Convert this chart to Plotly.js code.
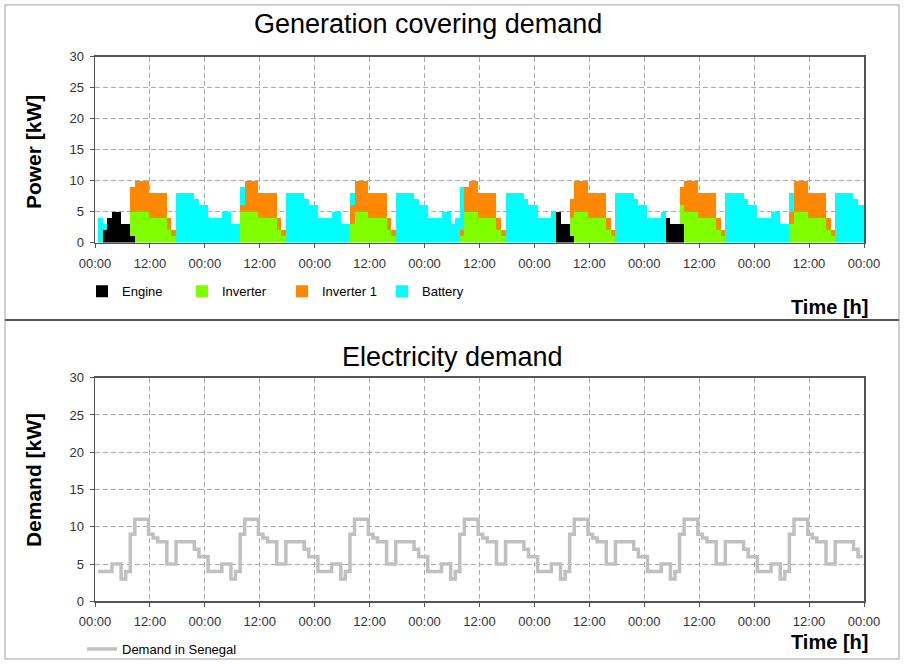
<!DOCTYPE html>
<html>
<head>
<meta charset="utf-8">
<script src="https://cdn.plot.ly/plotly-3.0.1.min.js"></script>
<style>
  html, body { margin: 0; padding: 0; background: #ffffff; }
  #chart { width: 904px; height: 664px; }
</style>
</head>
<body>
<div id="chart"></div>
<script>
// ---- data (hourly values, 7 days = 168 hours) ----
const seriesNames = ["Engine", "Inverter", "Inverter 1", "Battery"];
const demandName = "Demand in Senegal";

const engine = [
  0,2,4,5,5,3,3,1, 0,0,0,0,0,0,0,0, 0,0,0,0,0,0,0,0,
  0,0,0,0,0,0,0,0, 0,0,0,0,0,0,0,0, 0,0,0,0,0,0,0,0,
  0,0,0,0,0,0,0,0, 0,0,0,0,0,0,0,0, 0,0,0,0,0,0,0,0,
  0,0,0,0,0,0,0,0, 0,0,0,0,0,0,0,0, 0,0,0,0,0,0,0,0,
  0,0,0,0,5,3,3,1, 0,0,0,0,0,0,0,0, 0,0,0,0,0,0,0,0,
  0,0,0,0,4,3,3,3, 0,0,0,0,0,0,0,0, 0,0,0,0,0,0,0,0,
  0,0,0,0,0,0,0,0, 0,0,0,0,0,0,0,0, 0,0,0,0,0,0,0,0
];
const inverter = [
  0,0,0,0,0,0,0,4, 5,5,5,4,4,4,4,2, 1,0,0,0,0,0,0,0,
  0,0,0,0,0,0,0,5, 5,5,5,4,4,4,4,2, 1,0,0,0,0,0,0,0,
  0,0,0,0,0,0,0,3, 5,5,5,4,4,4,4,2, 1,0,0,0,0,0,0,0,
  0,0,0,0,0,0,0,1, 5,5,5,4,4,4,4,2, 1,0,0,0,0,0,0,0,
  0,0,0,0,0,0,0,3, 5,5,5,4,4,4,4,2, 1,0,0,0,0,0,0,0,
  0,0,0,0,0,0,0,3, 5,5,5,4,4,4,4,2, 1,0,0,0,0,0,0,0,
  0,0,0,0,0,0,0,3, 5,5,5,4,4,4,4,2, 1,0,0,0,0,0,0,0
];
const inverter1 = [
  0,0,0,0,0,0,0,4, 5,5,5,4,4,4,4,2, 1,0,0,0,0,0,0,0,
  0,0,0,0,0,0,0,1, 5,5,5,4,4,4,4,2, 1,0,0,0,0,0,0,0,
  0,0,0,0,0,0,0,3, 5,5,5,4,4,4,4,2, 1,0,0,0,0,0,0,0,
  0,0,0,0,0,0,0,1, 4,5,5,4,4,4,4,2, 1,0,0,0,0,0,0,0,
  0,0,0,0,0,0,0,3, 5,5,5,4,4,4,4,2, 1,0,0,0,0,0,0,0,
  0,0,0,0,0,0,0,3, 5,5,5,4,4,4,4,2, 1,0,0,0,0,0,0,0,
  0,0,0,0,0,0,0,2, 5,5,5,4,4,4,4,2, 1,0,0,0,0,0,0,0
];
const battery = [
  4,1,0,0,0,0,0,0, 0,0,0,0,0,0,0,0, 0,8,8,8,8,7,6,6,
  4,4,4,5,5,3,3,3, 0,0,0,0,0,0,0,0, 0,8,8,8,8,7,6,6,
  4,4,4,5,5,3,3,2, 0,0,0,0,0,0,0,0, 0,8,8,8,8,7,6,6,
  4,4,4,5,5,3,4,7, 0,0,0,0,0,0,0,0, 0,8,8,8,8,7,6,6,
  4,4,4,5,0,0,0,0, 0,0,0,0,0,0,0,0, 0,8,8,8,8,7,6,6,
  4,4,4,5,0,0,0,0, 0,0,0,0,0,0,0,0, 0,8,8,8,8,7,6,6,
  4,4,4,5,5,3,3,3, 0,0,0,0,0,0,0,0, 0,8,8,8,8,7,6,6
];
const demand = [
  4,4,4,5,5,3,4,9, 11,11,11,9,8.5,8,8,5, 5,8,8,8,8,7,6,6,
  4,4,4,5,5,3,4,9, 11,11,11,9,8.5,8,8,5, 5,8,8,8,8,7,6,6,
  4,4,4,5,5,3,4,9, 11,11,11,9,8.5,8,8,5, 5,8,8,8,8,7,6,6,
  4,4,4,5,5,3,4,9, 11,11,11,9,8.5,8,8,5, 5,8,8,8,8,7,6,6,
  4,4,4,5,5,3,4,9, 11,11,11,9,8.5,8,8,5, 5,8,8,8,8,7,6,6,
  4,4,4,5,5,3,4,9, 11,11,11,9,8.5,8,8,5, 5,8,8,8,8,7,6,6,
  4,4,4,5,5,3,4,9, 11,11,11,9,8.5,8,8,5, 5,8,8,8,8,7,6,6
];
const tickHours = [0,12,24,36,48,60,72,84,96,108,120,132,144,156,168];
const tickLabels = ["00:00","12:00","00:00","12:00","00:00","12:00","00:00","12:00",
                    "00:00","12:00","00:00","12:00","00:00","12:00","00:00"];

// ---- styling ----
const colors = ["#000000", "#80ff00", "#ff8800", "#00ffff"];
const STEP_OFFSET = 0.7;            // steps begin a little after the hour
const hours = engine.map((_, i) => i);
const W = 904, H = 664;
const px = v => v / W;
const py = v => 1 - v / H;
const FONT = "Liberation Sans, Arial, sans-serif";

const genValues = [engine, inverter, inverter1, battery];
const traces = genValues.map((vals, k) => ({
  type: "bar",
  name: seriesNames[k],
  x: hours,
  y: vals.map(v => (v === 0 ? null : v)),   // empty hours draw nothing
  width: 1,
  offset: STEP_OFFSET,
  marker: { color: colors[k], line: { width: 0 } },
  xaxis: "x", yaxis: "y",
  legend: "legend",
  hoverinfo: "x+y+name"
}));
traces.push({
  type: "scatter",
  mode: "lines",
  name: demandName,
  x: hours.map(h => h + STEP_OFFSET),
  y: demand,
  line: { shape: "hv", color: "#c0c0c0", width: 3.5 },
  xaxis: "x2", yaxis: "y2",
  legend: "legend2"
});

const xCommon = {
  range: [0, 168],
  tickmode: "array",
  tickvals: tickHours,
  ticktext: tickLabels,
  ticks: "outside", ticklen: 4, tickcolor: "#555",
  ticklabelstandoff: 4,
  tickfont: { family: FONT, size: 13, color: "#333" },
  showgrid: true, gridcolor: "#aaaaaa", gridwidth: 1, griddash: "5px,3px",
  showline: true, mirror: true, linecolor: "#555555", linewidth: 1.5,
  zeroline: false, fixedrange: true,
  domain: [px(95), px(864)]
};
const yCommon = {
  range: [0, 30], dtick: 5, tick0: 0,
  ticks: "outside", ticklen: 4, tickcolor: "#555",
  ticklabelstandoff: 3,
  tickfont: { family: FONT, size: 13, color: "#333" },
  showgrid: true, gridcolor: "#aaaaaa", gridwidth: 1, griddash: "5px,3px",
  showline: true, mirror: true, linecolor: "#555555", linewidth: 1.5,
  zeroline: false, fixedrange: true
};

const layout = {
  width: W, height: H,
  margin: { l: 0, r: 0, t: 0, b: 0 },
  paper_bgcolor: "#ffffff", plot_bgcolor: "#ffffff",
  barmode: "stack", bargap: 0,
  showlegend: true,
  font: { family: FONT, color: "#000" },
  xaxis: Object.assign({}, xCommon, { anchor: "y" }),
  yaxis: Object.assign({}, yCommon, { anchor: "x", domain: [py(244), py(57)] }),
  xaxis2: Object.assign({}, xCommon, { anchor: "y2" }),
  yaxis2: Object.assign({}, yCommon, { anchor: "x2", domain: [py(605), py(380)] }),
  legend: {
    orientation: "h", x: px(82), xanchor: "left", y: py(293), yanchor: "middle",
    traceorder: "normal", entrywidth: 55, bgcolor: "rgba(0,0,0,0)",
    font: { family: FONT, size: 13, color: "#000" }
  },
  legend2: {
    orientation: "h", x: px(82), xanchor: "left", y: py(653), yanchor: "middle",
    bgcolor: "rgba(0,0,0,0)",
    font: { family: FONT, size: 13, color: "#000" }
  },
  annotations: [
    { text: "Generation covering demand", xref: "paper", yref: "paper",
      x: px(428), y: py(24), xanchor: "center", yanchor: "middle", showarrow: false,
      font: { family: FONT, size: 27, color: "#000" } },
    { text: "Electricity demand", xref: "paper", yref: "paper",
      x: px(452), y: py(359), xanchor: "center", yanchor: "middle", showarrow: false,
      font: { family: FONT, size: 27, color: "#000" } },
    { text: "<b>Power [kW]</b>", xref: "paper", yref: "paper", textangle: -90,
      x: px(33), y: py(153), xanchor: "center", yanchor: "middle", showarrow: false,
      font: { family: FONT, size: 21, color: "#000" } },
    { text: "<b>Demand [kW]</b>", xref: "paper", yref: "paper", textangle: -90,
      x: px(33), y: py(483), xanchor: "center", yanchor: "middle", showarrow: false,
      font: { family: FONT, size: 21, color: "#000" } },
    { text: "<b>Time [h]</b>", xref: "paper", yref: "paper",
      x: px(870), y: py(309), xanchor: "right", yanchor: "middle", showarrow: false,
      font: { family: FONT, size: 20, color: "#000" } },
    { text: "<b>Time [h]</b>", xref: "paper", yref: "paper",
      x: px(870), y: py(646), xanchor: "right", yanchor: "middle", showarrow: false,
      font: { family: FONT, size: 20, color: "#000" } }
  ],
  shapes: [
    { type: "rect", xref: "paper", yref: "paper",
      x0: px(5), x1: px(899), y0: py(663), y1: py(5),
      line: { color: "#a0a0a0", width: 1 }, fillcolor: "rgba(0,0,0,0)", layer: "below" },
    { type: "line", xref: "paper", yref: "paper",
      x0: px(5), x1: px(899), y0: py(322), y1: py(322),
      line: { color: "#555555", width: 2 } }
  ]
};

Plotly.newPlot("chart", traces, layout, { staticPlot: true, displayModeBar: false });
</script>
</body>
</html>
